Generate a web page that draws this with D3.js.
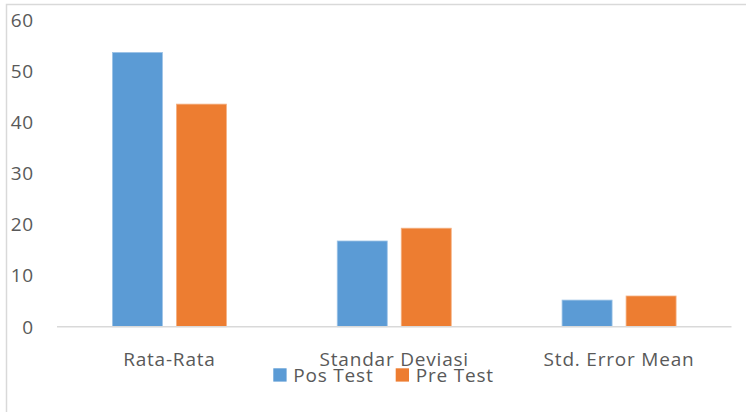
<!DOCTYPE html>
<html>
<head>
<meta charset="utf-8">
<script src="https://cdn.jsdelivr.net/npm/d3@7"></script>
<style>
  body { margin: 0; background: #fff; }
  text { font-family: "Open Sans", sans-serif; fill: #595959; font-size: 19px; letter-spacing: 0.8px; }
</style>
</head>
<body>
<svg id="chart" width="746" height="412"></svg>
<script>
const categories = ["Rata-Rata", "Standar Deviasi", "Std. Error Mean"];
const seriesNames = ["Pos Test", "Pre Test"];
const posTest = [53.6, 16.75, 5.2];
const preTest = [43.5, 19.25, 6.0];
const yTicks = [0, 10, 20, 30, 40, 50, 60];
const colors = ["#5b9bd5", "#ed7d31"];

const svg = d3.select("#chart");

// outer frame (only top and left edges show in the picture)
svg.append("path")
  .attr("d", "M6.5,412 V4.5 H746")
  .attr("fill", "none")
  .attr("stroke", "#d9d9d9")
  .attr("stroke-width", 1.5);

const x0 = d3.scaleBand()
  .domain(categories)
  .range([57, 731.5]);

const y = d3.scaleLinear()
  .domain([0, 60])
  .range([326.7, 19.7]);

// y tick labels
svg.append("g")
  .selectAll("text")
  .data(yTicks)
  .enter()
  .append("text")
  .attr("x", 34)
  .attr("y", d => y(d))
  .attr("dy", "0.36em")
  .attr("text-anchor", "end")
  .text(d => d);

// bars
const barW = 50, barGap = 14;
const rows = categories.map((c, i) => ({ cat: c, vals: [posTest[i], preTest[i]] }));

const groups = svg.append("g")
  .selectAll("g")
  .data(rows)
  .enter()
  .append("g")
  .attr("transform", d => `translate(${x0(d.cat) + x0.bandwidth() / 2},0)`);

groups.selectAll("rect")
  .data(d => d.vals)
  .enter()
  .append("rect")
  .attr("x", (d, i) => i === 0 ? -barW - barGap / 2 : barGap / 2)
  .attr("y", d => y(d))
  .attr("width", barW)
  .attr("height", d => y(0) - y(d))
  .attr("fill", (d, i) => colors[i])
  .attr("stroke", (d, i) => i === 0 ? "#9cc3e6" : "#f4b183")
  .attr("stroke-width", 0.8);

// baseline
svg.append("line")
  .attr("x1", x0.range()[0])
  .attr("x2", x0.range()[1])
  .attr("y1", y(0))
  .attr("y2", y(0))
  .attr("stroke", "#d9d9d9")
  .attr("stroke-width", 1.5);

// category labels
svg.append("g")
  .selectAll("text")
  .data(categories)
  .enter()
  .append("text")
  .attr("x", d => x0(d) + x0.bandwidth() / 2)
  .attr("y", 365.5)
  .attr("text-anchor", "middle")
  .text(d => d);

// legend
const legendX = [273.3, 395.7];
const legend = svg.append("g");
legend.selectAll("rect")
  .data(seriesNames)
  .enter()
  .append("rect")
  .attr("x", (d, i) => legendX[i])
  .attr("y", 368.3)
  .attr("width", 13.3)
  .attr("height", 13.3)
  .attr("fill", (d, i) => colors[i]);

legend.selectAll("text")
  .data(seriesNames)
  .enter()
  .append("text")
  .attr("x", (d, i) => legendX[i] + 20)
  .attr("y", 381.7)
  .text(d => d);
</script>
</body>
</html>
